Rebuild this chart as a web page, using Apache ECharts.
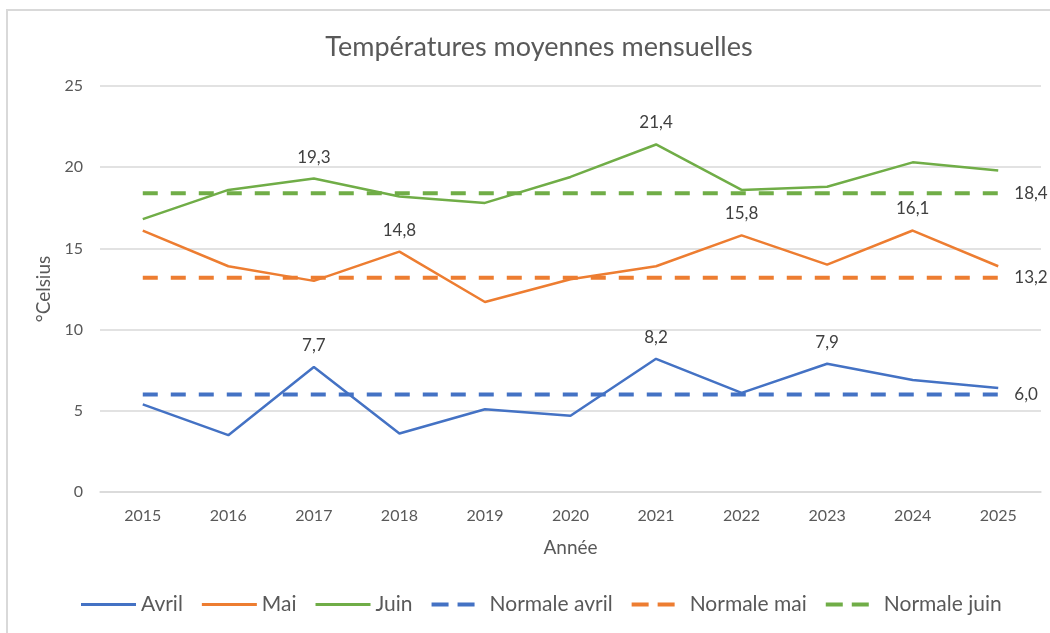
<!DOCTYPE html>
<html>
<head>
<meta charset="utf-8">
<script src="https://cdn.jsdelivr.net/npm/echarts@6/dist/echarts.min.js"></script>
<style>
  html, body { margin: 0; padding: 0; background: #fff; overflow: hidden; }
  .frame {
    position: absolute; left: 6px; top: 9px;
    width: 1100px; height: 700px;
    border: 2px solid #d9d9d9;
  }
  #chart { position: absolute; left: 0; top: 0; width: 1050px; height: 633px; }
</style>
</head>
<body>
<div class="frame"></div>
<div id="chart"></div>
<script>
// données
const annees = ['2015', '2016', '2017', '2018', '2019', '2020', '2021', '2022', '2023', '2024', '2025'];
const avril = [5.4, 3.5, 7.7, 3.6, 5.1, 4.7, 8.2, 6.1, 7.9, 6.9, 6.4];
const mai = [16.1, 13.9, 13.0, 14.8, 11.7, 13.1, 13.9, 15.8, 14.0, 16.1, 13.9];
const juin = [16.8, 18.6, 19.3, 18.2, 17.8, 19.4, 21.4, 18.6, 18.8, 20.3, 19.8];
const normaleAvril = [6.0, 6.0, 6.0, 6.0, 6.0, 6.0, 6.0, 6.0, 6.0, 6.0, 6.0];
const normaleMai = [13.2, 13.2, 13.2, 13.2, 13.2, 13.2, 13.2, 13.2, 13.2, 13.2, 13.2];
const normaleJuin = [18.4, 18.4, 18.4, 18.4, 18.4, 18.4, 18.4, 18.4, 18.4, 18.4, 18.4];
// années portant une étiquette
const etiqAvril = ['2017', '2021', '2023'];
const etiqMai = ['2018', '2022', '2024'];
const etiqJuin = ['2017', '2021'];
const etiqNormale = ['2025'];

const FONT = 'Lato';
const TXT = '#595959';
const fmt = v => v.toFixed(1).replace('.', ',');
// icônes de légende (trait plein / tirets)
const ICON_PLEIN = 'path://M0,0h55v3h-55z';
const ICON_TIRETS = 'path://M0,0h17v4h-17z M26,0h17v4h-17z';

function withLabels(values, years, pos) {
  return values.map((v, i) => {
    if (years.indexOf(annees[i]) < 0) return v;
    return {value: v, label: {show: true, position: pos}};
  });
}

function serie(name, color, values, years, dashed) {
  return {
    name: name,
    type: 'line',
    symbol: 'circle',
    symbolSize: 0.1,
    itemStyle: {color: color},
    lineStyle: dashed
      ? {width: 4, type: [15, 13], color: color}
      : {width: 2.5, color: color},
    label: {
      show: false,
      formatter: p => fmt(p.value),
      color: '#404040',
      fontFamily: FONT,
      fontSize: 17,
      distance: dashed ? 16 : 13
    },
    emphasis: {disabled: true},
    z: dashed ? 1 : 2,
    data: withLabels(values, years, dashed ? 'right' : 'top')
  };
}

function legendItem(name, dashed) {
  if (!dashed) return {name: name, icon: ICON_PLEIN};
  return {name: name, icon: ICON_TIRETS, textStyle: {padding: [0, 0, 0, 4]}};
}

const chart = echarts.init(document.getElementById('chart'));
chart.setOption({
  animation: false,
  backgroundColor: 'transparent',
  title: {
    text: 'Températures moyennes mensuelles',
    left: 534, top: 29, textAlign: 'center',
    textStyle: {fontFamily: FONT, fontSize: 27, fontWeight: 'normal', color: TXT}
  },
  grid: {left: 100, right: 9, top: 86, bottom: 141},
  legend: {
    bottom: 13, left: 76,
    itemWidth: 55, itemHeight: 4, itemGap: 19,
    textStyle: {fontFamily: FONT, fontSize: 21, color: TXT},
    data: [
      legendItem('Avril', false),
      legendItem('Mai', false),
      legendItem('Juin', false),
      legendItem('Normale avril', true),
      legendItem('Normale mai', true),
      legendItem('Normale juin', true)
    ]
  },
  xAxis: {
    type: 'category',
    data: annees,
    boundaryGap: true,
    name: 'Année',
    nameLocation: 'middle',
    nameGap: 46,
    nameTextStyle: {fontFamily: FONT, fontSize: 19, color: TXT},
    axisLine: {lineStyle: {color: '#d9d9d9', width: 1.5}},
    axisTick: {show: false},
    axisLabel: {fontFamily: FONT, fontSize: 16, color: TXT, margin: 16}
  },
  yAxis: {
    type: 'value',
    min: 0, max: 25, interval: 5,
    name: '°Celsius',
    nameLocation: 'middle',
    nameRotate: 90,
    nameGap: 42,
    nameTextStyle: {fontFamily: FONT, fontSize: 19, color: TXT},
    axisLine: {show: false},
    axisTick: {show: false},
    axisLabel: {fontFamily: FONT, fontSize: 16, color: TXT, margin: 17},
    splitLine: {lineStyle: {color: '#d9d9d9', width: 1.5}}
  },
  series: [
    serie('Avril', '#4472c4', avril, etiqAvril, false),
    serie('Mai', '#ed7d31', mai, etiqMai, false),
    serie('Juin', '#70ad47', juin, etiqJuin, false),
    serie('Normale avril', '#4472c4', normaleAvril, etiqNormale, true),
    serie('Normale mai', '#ed7d31', normaleMai, etiqNormale, true),
    serie('Normale juin', '#70ad47', normaleJuin, etiqNormale, true)
  ]
});
</script>
</body>
</html>
